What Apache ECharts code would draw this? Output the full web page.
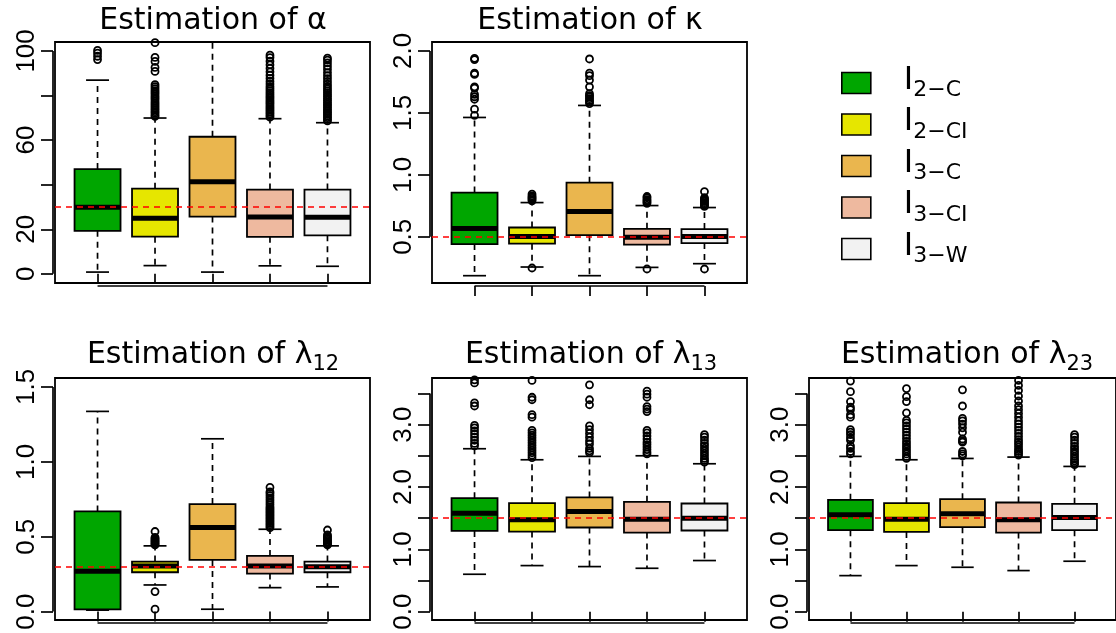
<!DOCTYPE html>
<html>
<head>
<meta charset="utf-8">
<script src="https://cdn.jsdelivr.net/npm/echarts@6.0.0/dist/echarts.min.js"></script>
<style>
html,body{margin:0;padding:0;background:#fff;}
#chart{width:1116px;height:633px;}
</style>
</head>
<body>
<div id="chart"></div>
<script>
// ---------- DATA ----------
const categories = ['I2−C', 'I2−CI', 'I3−C', 'I3−CI', 'I3−W'];
const colors = ['#00A600', '#E6E600', '#EAB64E', '#EEB99F', '#F2F2F2'];

// box stats per estimator: [lower whisker, Q1, median, Q3, upper whisker]
const alphaBox = [
  [0.8, 19.3, 29.9, 47.0, 86.9],
  [3.7, 16.7, 24.9, 38.2, 69.9],
  [0.8, 25.7, 41.3, 61.5, 112],
  [3.6, 16.6, 25.5, 37.8, 69.6],
  [3.4, 17.3, 25.4, 37.8, 67.8]
];
const alphaOut = [
  [96.1, 97.6, 99.0, 100.2],
  [70.6, 71.3, 72.1, 72.8, 73.6, 74.3, 75.1, 75.9, 76.6, 77.4, 78.3, 79.0, 79.8, 80.7, 81.5, 82.2, 83.1, 84.0, 84.9, 90.8, 92.6, 95.3, 97.1, 103.7],
  [],
  [70.3, 71.0, 71.8, 72.5, 73.3, 74.1, 74.8, 75.6, 76.4, 77.1, 77.9, 78.8, 79.6, 80.5, 81.3, 82.2, 83.1, 84.0, 85.2, 86.4, 87.7, 89.1, 90.6, 92.2, 93.8, 95.4, 97.0, 98.1],
  [68.6, 69.3, 70.1, 70.8, 71.6, 72.3, 73.1, 73.8, 74.6, 75.4, 76.1, 76.9, 77.8, 78.6, 79.5, 80.3, 81.2, 82.1, 83.0, 84.0, 85.1, 86.3, 87.6, 88.9, 90.3, 91.8, 93.2, 94.6, 95.9, 96.8]
];

const kappaBox = [
  [0.186, 0.441, 0.567, 0.857, 1.463],
  [0.256, 0.444, 0.503, 0.575, 0.776],
  [0.186, 0.513, 0.704, 0.937, 1.560],
  [0.253, 0.436, 0.497, 0.564, 0.752],
  [0.283, 0.449, 0.503, 0.562, 0.736]
];
const kappaOut = [
  [1.48, 1.53, 1.61, 1.63, 1.65, 1.70, 1.71, 1.81, 1.82, 1.93, 1.94],
  [0.248, 0.79, 0.80, 0.81, 0.82, 0.83, 0.845],
  [1.575, 1.59, 1.60, 1.615, 1.63, 1.64, 1.655, 1.71, 1.765, 1.80, 1.82, 1.935],
  [0.24, 0.77, 0.78, 0.79, 0.80, 0.815, 0.825],
  [0.24, 0.745, 0.755, 0.765, 0.775, 0.785, 0.795, 0.805, 0.815, 0.865]
];

const lambda12Box = [
  [0.01, 0.015, 0.27, 0.669, 1.337],
  [0.178, 0.263, 0.305, 0.334, 0.439],
  [0.016, 0.345, 0.562, 0.718, 1.154],
  [0.16, 0.254, 0.305, 0.372, 0.55],
  [0.165, 0.263, 0.299, 0.334, 0.439]
];
const lambda12Out = [
  [],
  [0.016, 0.134, 0.445, 0.452, 0.459, 0.466, 0.473, 0.48, 0.488, 0.496, 0.535],
  [],
  [0.56, 0.57, 0.58, 0.59, 0.60, 0.61, 0.62, 0.63, 0.64, 0.65, 0.66, 0.67, 0.68, 0.69, 0.70, 0.715, 0.73, 0.745, 0.76, 0.775, 0.79, 0.80, 0.83],
  [0.445, 0.452, 0.46, 0.468, 0.476, 0.484, 0.493, 0.502, 0.512, 0.545]
];

const lambda13Box = [
  [0.60, 1.296, 1.58, 1.821, 2.614],
  [0.739, 1.285, 1.473, 1.741, 2.437],
  [0.723, 1.35, 1.607, 1.832, 2.491],
  [0.696, 1.269, 1.484, 1.762, 2.501],
  [0.82, 1.302, 1.50, 1.735, 2.373]
];
const lambda13Out = [
  [2.66, 2.70, 2.75, 2.80, 2.85, 2.90, 2.95, 2.99, 3.30, 3.35, 3.67, 3.72],
  [2.47, 2.51, 2.55, 2.59, 2.63, 2.67, 2.71, 2.75, 2.79, 2.83, 2.87, 2.91, 3.12, 3.16, 3.40, 3.44, 3.71],
  [2.55, 2.58, 2.62, 2.69, 2.74, 2.80, 2.86, 2.92, 2.98, 3.32, 3.40, 3.64],
  [2.53, 2.56, 2.60, 2.64, 2.68, 2.72, 2.77, 2.82, 2.87, 2.91, 3.21, 3.25, 3.29, 3.44, 3.49, 3.54],
  [2.40, 2.43, 2.46, 2.50, 2.54, 2.58, 2.62, 2.66, 2.70, 2.75, 2.80, 2.84]
];

const lambda23Box = [
  [0.578, 1.307, 1.553, 1.794, 2.491],
  [0.739, 1.28, 1.484, 1.741, 2.437],
  [0.712, 1.355, 1.569, 1.805, 2.458],
  [0.659, 1.269, 1.473, 1.751, 2.48],
  [0.809, 1.307, 1.51, 1.73, 2.33]
];
const lambda23Out = [
  [2.53, 2.57, 2.62, 2.66, 2.75, 2.79, 2.84, 2.88, 2.92, 3.12, 3.16, 3.24, 3.28, 3.37, 3.53, 3.70],
  [2.46, 2.49, 2.53, 2.57, 2.61, 2.65, 2.69, 2.73, 2.78, 2.83, 2.88, 2.93, 2.98, 3.03, 3.07, 3.19, 3.37, 3.45, 3.58],
  [2.50, 2.53, 2.57, 2.72, 2.74, 2.77, 2.88, 2.95, 3.01, 3.06, 3.10, 3.30, 3.56],
  [2.51, 2.54, 2.57, 2.60, 2.64, 2.68, 2.72, 2.76, 2.81, 2.86, 2.91, 2.96, 3.01, 3.06, 3.12, 3.18, 3.24, 3.30, 3.38, 3.46, 3.55, 3.63, 3.71],
  [2.36, 2.39, 2.42, 2.45, 2.49, 2.53, 2.57, 2.61, 2.65, 2.70, 2.75, 2.80, 2.84]
];

const trueValues = [30, 0.5, 0.3, 1.5, 1.5];
const titleTexts = [
  '{t|Estimation of α}{z|}',
  '{t|Estimation of κ}{z|}',
  '{t|Estimation of λ}{s|12}{z|}',
  '{t|Estimation of λ}{s|13}{z|}',
  '{t|Estimation of λ}{s|23}{z|}'
];
const yTicks = [
  [0, 20, 40, 60, 80, 100],
  [0.5, 1.0, 1.5, 2.0],
  [0.0, 0.5, 1.0, 1.5],
  [0.0, 0.5, 1.0, 1.5, 2.0, 2.5, 3.0, 3.5],
  [0.0, 0.5, 1.0, 1.5, 2.0, 2.5, 3.0, 3.5]
];
const yLabels = [
  [0, 20, 60, 100],
  [0.5, 1.0, 1.5, 2.0],
  [0.0, 0.5, 1.0, 1.5],
  [0.0, 1.0, 2.0, 3.0],
  [0.0, 1.0, 2.0, 3.0]
];

// ---------- LAYOUT (styles / positions) ----------
const gridLayout = [
  {left: 55, top: 42, width: 315, height: 241},
  {left: 432, top: 42, width: 315, height: 241},
  {left: 55, top: 378, width: 315, height: 242},
  {left: 432, top: 378, width: 315, height: 242},
  {left: 809, top: 378, width: 317, height: 242}
];
const yRanges = [[-4.1, 104], [0.127, 2.072], [-0.056, 1.56], [-0.134, 3.749], [-0.134, 3.749]];
const titlePos = [[213, 6], [590, 6], [213, 340], [591, 340], [967, 340]];
const boxSets = [alphaBox, kappaBox, lambda12Box, lambda13Box, lambda23Box];
const outSets = [alphaOut, kappaOut, lambda12Out, lambda13Out, lambda23Out];

function renderBox(params, api) {
  const x = api.value(0);
  const lw = api.value(1), q1 = api.value(2), md = api.value(3), q3 = api.value(4), uw = api.value(5);
  const c = (xx, yy) => api.coord([xx, yy]);
  const half = 0.4, cap = 0.2;
  const dash = {stroke: '#000', lineWidth: 1.7, lineDash: [6, 5], fill: null};
  const solid = {stroke: '#000', lineWidth: 1.7, fill: null};
  const pq3 = c(x, q3), puw = c(x, uw), pq1 = c(x, q1), plw = c(x, lw);
  const tl = c(x - half, q3), br = c(x + half, q1);
  const ml = c(x - half, md), mr = c(x + half, md);
  const cu1 = c(x - cap, uw), cu2 = c(x + cap, uw);
  const cl1 = c(x - cap, lw), cl2 = c(x + cap, lw);
  return {
    type: 'group',
    children: [
      {type: 'line', shape: {x1: pq3[0], y1: pq3[1], x2: puw[0], y2: puw[1]}, style: dash},
      {type: 'line', shape: {x1: pq1[0], y1: pq1[1], x2: plw[0], y2: plw[1]}, style: dash},
      {type: 'line', shape: {x1: cu1[0], y1: cu1[1], x2: cu2[0], y2: cu2[1]}, style: solid},
      {type: 'line', shape: {x1: cl1[0], y1: cl1[1], x2: cl2[0], y2: cl2[1]}, style: solid},
      {type: 'rect', shape: {x: tl[0], y: tl[1], width: br[0] - tl[0], height: br[1] - tl[1]},
        style: {fill: api.visual('color'), stroke: '#000', lineWidth: 1.8}},
      {type: 'line', shape: {x1: ml[0], y1: ml[1], x2: mr[0], y2: mr[1]}, style: {stroke: '#000', lineWidth: 5}}
    ]
  };
}

function renderAxes(params, api) {
  const cs = params.coordSys;
  const xa = api.coord([api.value(0), api.value(2)]);
  const xb = api.coord([api.value(1), api.value(3)]);
  const yLine = cs.y + cs.height + 3;
  const xLine = cs.x - 2;
  const st = {stroke: '#000', lineWidth: 1.7};
  return {
    type: 'group',
    children: [
      {type: 'line', shape: {x1: xa[0], y1: yLine, x2: xb[0], y2: yLine}, style: st},
      {type: 'line', shape: {x1: xLine, y1: xa[1], x2: xLine, y2: xb[1]}, style: st}
    ]
  };
}

const grids = [], xAxes = [], yAxes = [], series = [], titles = [];
for (let p = 0; p < 5; p++) {
  grids.push(Object.assign({show: true, borderColor: '#000', borderWidth: 1.8, backgroundColor: 'transparent'}, gridLayout[p]));
  xAxes.push({
    type: 'value', gridIndex: p, min: 0.26, max: 5.74, offset: 3,
    axisLine: {show: false},
    axisTick: {show: true, customValues: [1, 2, 3, 4, 5], length: 10, lineStyle: {color: '#000', width: 1.7}},
    axisLabel: {show: false}, splitLine: {show: false}
  });
  yAxes.push({
    type: 'value', gridIndex: p, min: yRanges[p][0], max: yRanges[p][1], offset: 2,
    axisLine: {show: false},
    axisTick: {show: true, customValues: yTicks[p], length: 12, lineStyle: {color: '#000', width: 1.7}},
    axisLabel: {
      show: true, customValues: yLabels[p], rotate: 90, margin: 13,
      fontFamily: 'Liberation Sans', fontSize: 26, color: '#000',
      formatter: (v) => p === 0 ? String(Math.round(v)) : Number(v).toFixed(1)
    },
    splitLine: {show: false}
  });
  titles.push({
    text: titleTexts[p], left: titlePos[p][0], top: titlePos[p][1], textAlign: 'center', padding: 0,
    textStyle: {
      fontWeight: 'normal',
      rich: {
        t: {fontFamily: 'DejaVu Sans', fontSize: 30, fontWeight: 'normal', lineHeight: 30, verticalAlign: 'top', color: '#000'},
        s: {fontFamily: 'DejaVu Sans', fontSize: 21, fontWeight: 'normal', lineHeight: 21, verticalAlign: 'bottom', color: '#000'},
        z: {lineHeight: 35, width: 0}
      }
    }
  });
  for (let e = 0; e < 5; e++) {
    series.push({
      type: 'custom', name: categories[e], xAxisIndex: p, yAxisIndex: p,
      renderItem: renderBox, clip: true, z: 2,
      itemStyle: {color: colors[e]},
      encode: {x: 0, y: [1, 2, 3, 4, 5]},
      data: [[e + 1].concat(boxSets[p][e])]
    });
  }
  for (let e = 0; e < 5; e++) {
    series.push({
      type: 'scatter', name: categories[e], xAxisIndex: p, yAxisIndex: p,
      symbol: 'circle', symbolSize: 7, clip: true, z: 3,
      itemStyle: {color: 'rgba(0,0,0,0)', borderColor: '#000', borderWidth: 1.8, opacity: 1},
      data: outSets[p][e].map(v => [e + 1, v])
    });
  }
  series.push({
    type: 'custom', xAxisIndex: p, yAxisIndex: p, renderItem: renderAxes, clip: false, silent: true, z: 1,
    encode: {x: [0, 1], y: [2, 3]},
    data: [[1, 5, yTicks[p][0], yTicks[p][yTicks[p].length - 1]]]
  });
  series.push({
    type: 'line', xAxisIndex: p, yAxisIndex: p, data: [], z: 6, silent: true,
    markLine: {
      silent: true, symbol: 'none', animation: false,
      label: {show: false},
      lineStyle: {color: '#FF0000', type: [6, 5], width: 1.6},
      data: [{yAxis: trueValues[p]}]
    }
  });
}

const chart = echarts.init(document.getElementById('chart'), null, {renderer: 'canvas'});
chart.setOption({
  animation: false,
  backgroundColor: '#fff',
  title: titles,
  legend: {
    orient: 'vertical', left: 841, top: 64.5, padding: 0,
    itemWidth: 29, itemHeight: 21, itemGap: 4.5, icon: 'rect',
    itemStyle: {borderColor: '#000', borderWidth: 1.6},
    data: categories,
    selectedMode: false,
    formatter: (name) => '{g|}{m|I}{s|' + name.slice(1) + '}',
    textStyle: {
      color: '#000',
      rich: {
        g: {width: 28, lineHeight: 37},
        m: {fontFamily: 'DejaVu Sans', fontSize: 32, lineHeight: 32, verticalAlign: 'top', color: '#000'},
        s: {fontFamily: 'DejaVu Sans', fontSize: 22, lineHeight: 22, verticalAlign: 'bottom', color: '#000'}
      }
    }
  },
  grid: grids,
  xAxis: xAxes,
  yAxis: yAxes,
  series: series
});
</script>
</body>
</html>
